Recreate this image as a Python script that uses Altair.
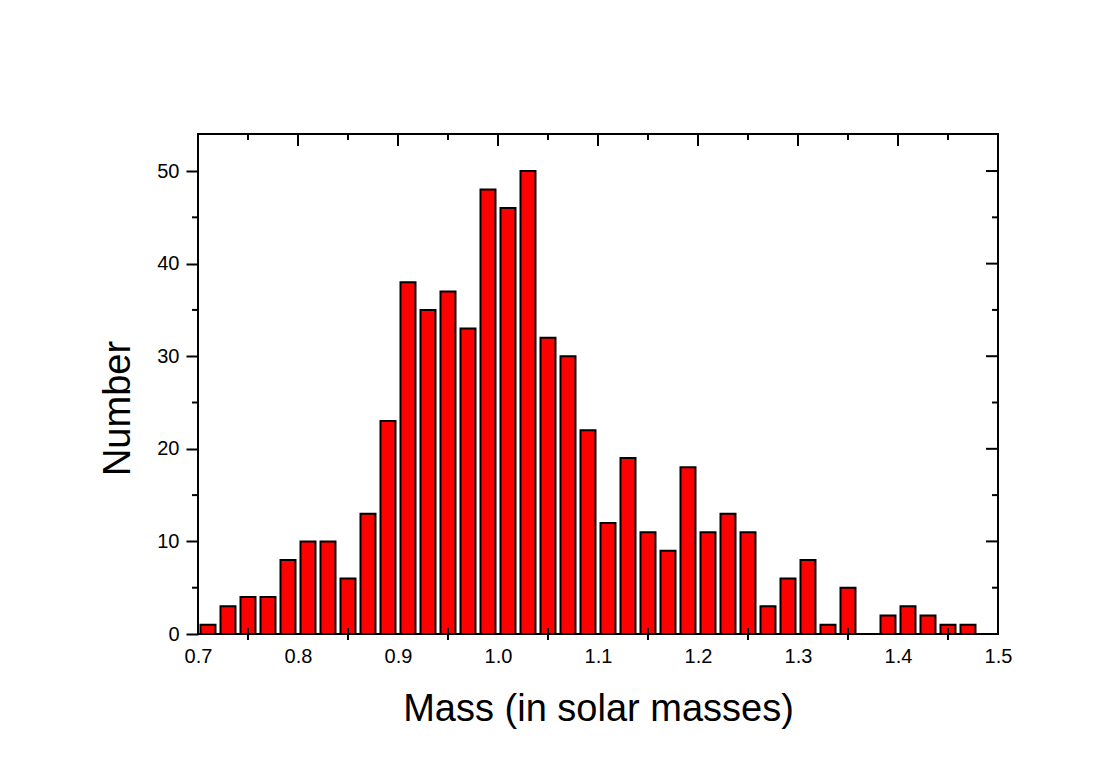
import altair as alt
import pandas as pd

# histogram bins (lower edges) and counts
bin_lo = [0.70, 0.72, 0.74, 0.76, 0.78, 0.80, 0.82, 0.84, 0.86, 0.88,
          0.90, 0.92, 0.94, 0.96, 0.98, 1.00, 1.02, 1.04, 1.06, 1.08,
          1.10, 1.12, 1.14, 1.16, 1.18, 1.20, 1.22, 1.24, 1.26, 1.28,
          1.30, 1.32, 1.34, 1.36, 1.38, 1.40, 1.42, 1.44, 1.46, 1.48]
bin_width = 0.02
counts = [1, 3, 4, 4, 8, 10, 10, 6, 13, 23,
          38, 35, 37, 33, 48, 46, 50, 32, 30, 22,
          12, 19, 11, 9, 18, 11, 13, 11, 3, 6,
          8, 1, 5, 0, 2, 3, 2, 1, 1, 0]

major_x = [0.7, 0.8, 0.9, 1.0, 1.1, 1.2, 1.3, 1.4, 1.5]
minor_x = [0.75, 0.85, 0.95, 1.05, 1.15, 1.25, 1.35, 1.45]
major_y = [0, 10, 20, 30, 40, 50]
minor_y = [5, 15, 25, 35, 45]

bars = pd.DataFrame({
    "lo": bin_lo,
    "hi": [round(b + bin_width, 4) for b in bin_lo],
    "count": counts,
    "base": [0] * len(bin_lo),
})
bars = bars[bars["count"] > 0]

FONT = "Liberation Sans"
W, H = 800, 500

x_scale = alt.Scale(domain=[0.7, 1.5], nice=False, zero=False, padding=0)
y_scale = alt.Scale(domain=[0, 54], nice=False, padding=0)

x_axis = alt.Axis(
    values=major_x, format=".1f", ticks=False, domain=False, grid=False,
    labelFontSize=20, labelPadding=12, labelFlush=False, labelOverlap=False,
    title="Mass (in solar masses)", titleFontSize=38, titleFontWeight="normal",
    titleY=86, titleBaseline="alphabetic")
y_axis = alt.Axis(
    values=major_y, tickSize=12, tickWidth=2, tickColor="black",
    domain=False, grid=False, labelFontSize=20, labelPadding=7,
    title="Number", titleFontSize=38, titleFontWeight="normal",
    titleX=-69, titleY=274, titleBaseline="alphabetic", titleAlign="center",
    titleAngle=270)

bar = alt.Chart(bars).mark_bar(
    color="#ff0000", stroke="black", strokeWidth=2,
    xOffset=2.5, x2Offset=-2.5
).encode(
    x=alt.X("lo:Q", scale=x_scale, axis=x_axis),
    x2="hi:Q",
    y=alt.Y("count:Q", scale=y_scale, axis=y_axis),
    y2="base:Q",
)

def yticks(vals, x1, x2):
    return alt.Chart(pd.DataFrame({"v": vals})).mark_rule(
        color="black", strokeWidth=2).encode(
        y=alt.Y("v:Q", scale=y_scale, axis=y_axis),
        x=alt.value(x1), x2=alt.value(x2))

def xticks(vals, y1, y2):
    return alt.Chart(pd.DataFrame({"v": vals})).mark_rule(
        color="black", strokeWidth=2).encode(
        x=alt.X("v:Q", scale=x_scale, axis=x_axis),
        y=alt.value(y1), y2=alt.value(y2))

layers = [
    bar,
    yticks(minor_y, -6, 0),        # left minor (outward)
    yticks(major_y, W, W - 12),    # right major (inward)
    yticks(minor_y, W, W - 6),     # right minor (inward)
    xticks(major_x[1:-1], 0, 12),  # top major (inward)
    xticks(minor_x, 0, 6),         # top minor (inward)
    xticks(minor_x, H - 6, H + 6), # bottom minor (crossing)
]

chart = alt.layer(*layers).properties(
    width=W, height=H,
    autosize=alt.AutoSizeParams(type="none"),
    padding={"left": 190, "top": 126, "right": 107, "bottom": 128},
    background="white",
).configure_view(
    stroke="black", strokeWidth=2
).configure_axis(
    labelFont=FONT, titleFont=FONT, labelColor="black", titleColor="black"
)

chart.save("out.html", embed_options={"renderer": "svg", "actions": False})
